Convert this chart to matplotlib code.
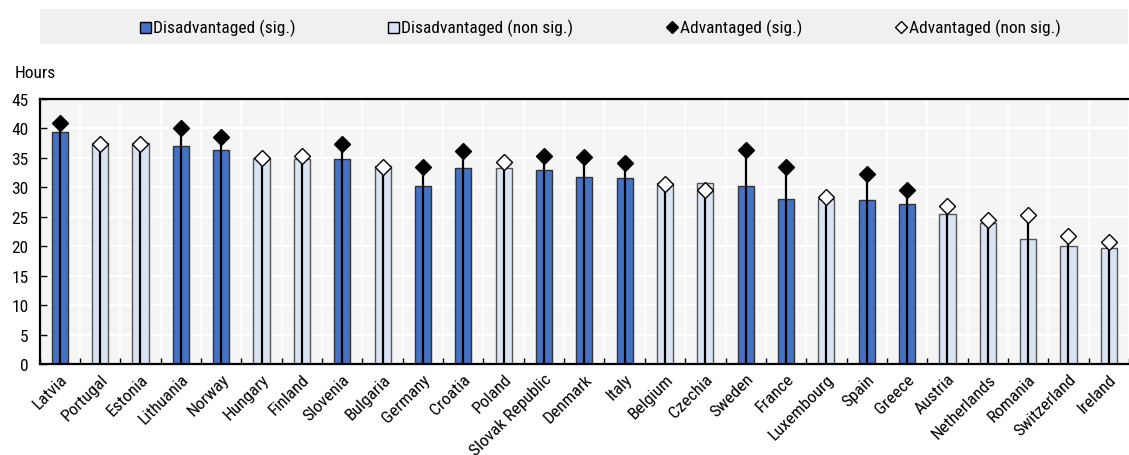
import matplotlib
matplotlib.use("Agg")
import matplotlib.pyplot as plt
from matplotlib.patches import Rectangle
from matplotlib.lines import Line2D
import numpy as np

plt.rcParams['font.family'] = ['Roboto Condensed', 'DejaVu Sans']

countries = ['Latvia', 'Portugal', 'Estonia', 'Lithuania', 'Norway', 'Hungary', 'Finland',
             'Slovenia', 'Bulgaria', 'Germany', 'Croatia', 'Poland', 'Slovak Republic',
             'Denmark', 'Italy', 'Belgium', 'Czechia', 'Sweden', 'France', 'Luxembourg',
             'Spain', 'Greece', 'Austria', 'Netherlands', 'Romania', 'Switzerland', 'Ireland']
disadvantaged = [39.4, 37.5, 37.5, 37.0, 36.3, 35.0, 34.8, 34.8, 33.7, 30.2, 33.3, 33.3, 33.0,
                 31.7, 31.5, 30.8, 30.8, 30.2, 28.0, 28.0, 27.8, 27.2, 25.4, 23.9, 21.2, 20.0, 19.7]
advantaged = [41.0, 37.4, 37.4, 40.0, 38.6, 35.0, 35.3, 37.4, 33.5, 33.5, 36.2, 34.3, 35.3,
              35.1, 34.1, 30.5, 29.6, 36.3, 33.4, 28.4, 32.2, 29.6, 26.8, 24.4, 25.3, 21.8, 20.7]
significant = [1, 0, 0, 1, 1, 0, 0, 1, 0, 1, 1, 0, 1, 1, 1, 0, 0, 1, 1, 0, 1, 1, 0, 0, 0, 0, 0]

DARK = '#4472c4'
LIGHT = '#dae3f3'

fig = plt.figure(figsize=(11.29, 4.56), dpi=100)
ax = fig.add_axes([0.0351, 0.1996, 0.9649, 0.5811])
ax.set_facecolor('#f5f5f5')

x = np.arange(len(countries))
sig = np.array(significant, dtype=bool)
colors = [DARK if s else LIGHT for s in sig]
edges = ['#333333' if s else '#555555' for s in sig]
ax.bar(x, disadvantaged, width=0.4, color=colors, edgecolor=edges, linewidth=1.0, zorder=2)

# line from zero up to the advantaged value
ax.vlines(x, 0, advantaged, color='black', linewidth=1.6, zorder=3)
adv = np.array(advantaged)
ax.plot(x[sig], adv[sig], 'D', ms=7.8, mfc='black', mec='black', zorder=4)
ax.plot(x[~sig], adv[~sig], 'D', ms=7.8, mfc='white', mec='black', mew=1.0, zorder=4)

ax.set_ylim(0, 45)
ax.set_yticks(np.arange(0, 46, 5))
ax.set_xlim(-0.5, 26.18)
ax.set_xticks(x)
ax.set_xticks(np.arange(-0.5, 27, 1), minor=True)
ax.set_xticklabels(countries, rotation=45, ha='right', rotation_mode='anchor', fontsize=12.5)
ax.tick_params(axis='x', which='major', length=0, pad=5)
ax.tick_params(axis='x', which='minor', direction='in', length=4, width=1, color='black')
ax.tick_params(axis='y', direction='in', length=5, width=1, labelsize=12.5, pad=8)

ax.grid(axis='y', color='white', linewidth=1.5, zorder=0)
ax.grid(axis='x', which='minor', color='white', linewidth=1.2, zorder=0)
ax.set_axisbelow(True)

for side in ['top', 'left', 'bottom']:
    ax.spines[side].set_linewidth(1.6)
    ax.spines[side].set_color('black')
ax.spines['right'].set_visible(False)

fig.text(15 / 1129, 1 - 74 / 456, 'Hours', fontsize=12.5, ha='left', va='center')

# legend band across the top
W, H = 1129, 456
fig.patches.append(Rectangle((40 / W, 1 - 45 / H), (1128 - 40) / W, 35 / H,
                             transform=fig.transFigure, facecolor='#f0f0f0', edgecolor='none'))
legend_items = [
    ('square', DARK, 'Disadvantaged (sig.)', 140),
    ('square', LIGHT, 'Disadvantaged (non sig.)', 388),
    ('diamond', 'black', 'Advantaged (sig.)', 667),
    ('diamond', 'white', 'Advantaged (non sig.)', 896),
]
yc = 1 - 28 / H
for kind, col, label, px in legend_items:
    if kind == 'square':
        fig.patches.append(Rectangle((px / W, yc - 5.5 / H), 11 / W, 11 / H,
                                     transform=fig.transFigure, facecolor=col,
                                     edgecolor='black', linewidth=1.0))
    else:
        fig.lines.append(Line2D([(px + 5) / W], [yc], transform=fig.transFigure,
                                marker='D', ms=6.5, mfc=col, mec='black', mew=1.0))
    fig.text((px + 13) / W, yc, label, fontsize=12.5, ha='left', va='center')

fig.savefig('out.png', dpi=100)
